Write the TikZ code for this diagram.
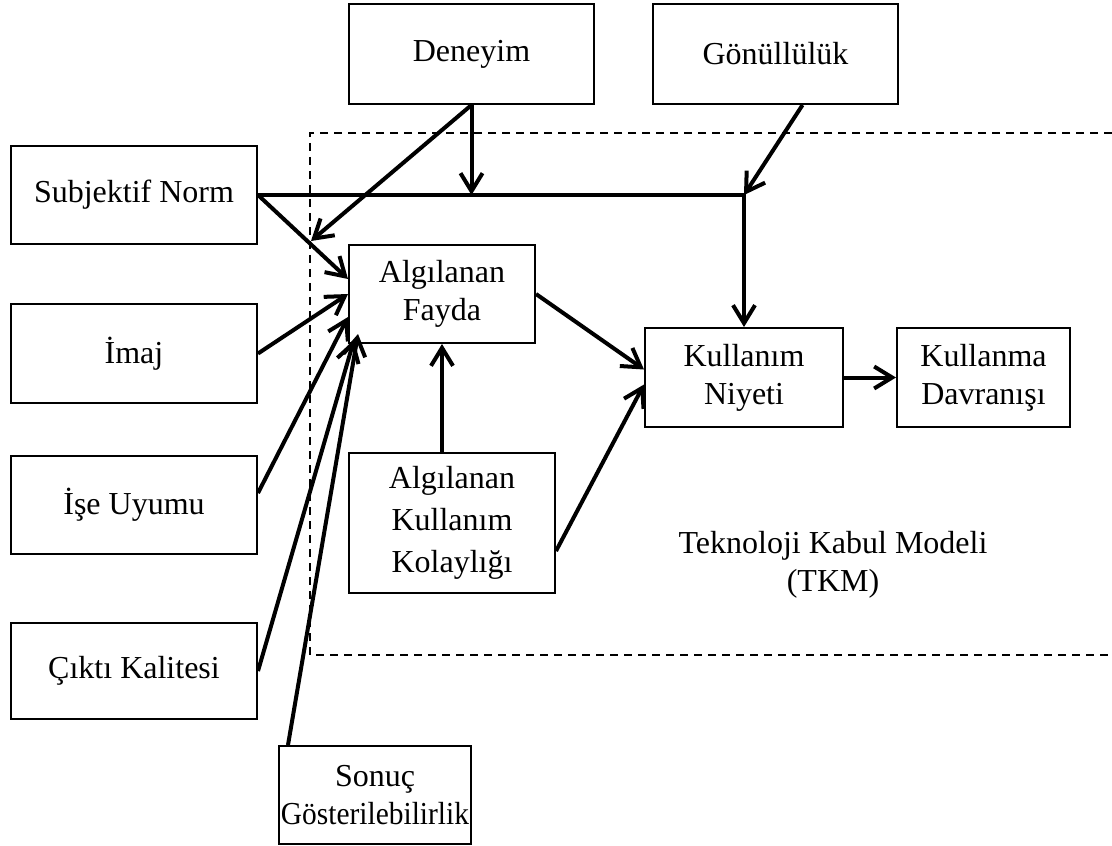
\documentclass[tikz,border=0pt]{standalone}
\usepackage{fontspec}
\setmainfont{Liberation Serif}
\usetikzlibrary{arrows.meta, calc}

\begin{document}
\begin{tikzpicture}[x=0.5pt, y=-0.5pt, font=\fontsize{16}{19}\selectfont,
		kutu/.style={draw, line width=1pt, rectangle, anchor=north west, align=center, inner sep=0pt},
		ok/.style={-{Straight Barb[length=9pt, width=11pt]}, line width=2pt}]
		\useasboundingbox (0,0) rectangle (1112,845);
		\draw[line width=0.9pt, dash pattern=on 4pt off 3pt] (1112,133) -- (310,133) -- (310,655) -- (1112,655);
		\node[kutu, minimum width=122.5pt, minimum height=50pt] (deneyim) at (348,3) {Deneyim};
		\node[kutu, minimum width=122.5pt, minimum height=50pt] (gonullu) at (652,3) {Gönüllülük};
		\node[kutu, minimum width=123pt, minimum height=49pt] (subnorm) at (10,145) {Subjektif Norm};
		\node[kutu, minimum width=123pt, minimum height=49.5pt] (imaj) at (10,303) {İmaj};
		\node[kutu, minimum width=123pt, minimum height=49pt] (iseuyum) at (10,455) {İşe Uyumu};
		\node[kutu, minimum width=123pt, minimum height=48pt] (ciktikal) at (10,622) {Çıktı Kalitesi};
		\node[kutu, minimum width=96pt, minimum height=49pt] (sonuc) at (278,745) {Sonuç\\\scalebox{0.92}[1]{Gösterilebilirlik}};
		\node[kutu, minimum width=93pt, minimum height=49pt] (fayda) at (348,244) {Algılanan\\Fayda};
		\node[kutu, minimum width=103pt, minimum height=70pt, font=\fontsize{16}{21}\selectfont] (kolay) at (348,452) {Algılanan\\Kullanım\\Kolaylığı};
		\node[kutu, minimum width=99pt, minimum height=49.5pt] (niyet) at (644,327) {Kullanım\\Niyeti};
		\node[kutu, minimum width=86.5pt, minimum height=49.5pt] (davranis) at (896,327) {Kullanma\\Davranışı};
		\node[align=center] (tkm) at (833,565) {Teknoloji Kabul Modeli\\(TKM)};
		\coordinate (kavsak) at (niyet.north |- subnorm.east);
		\coordinate (dnyuc) at (311,241);
		\draw[ok] (deneyim.south) -- (deneyim.south |- kavsak);
		\draw[ok] (deneyim.south) -- (dnyuc);
		\draw[ok] ($(gonullu.south)+(27,0)$) -- (kavsak);
		\draw[ok] (subnorm.east) -- (kavsak) -- (niyet.north);
		\draw[ok] (subnorm.east) -- ($(fayda.west)+(0,-15)$);
		\draw[ok] (imaj.east) -- (fayda.west);
		\draw[ok] ($(iseuyum.east)+(0,-12)$) -- ($(fayda.west)+(0,23)$);
		\draw[ok] (ciktikal.east) -- ($(fayda.south west)+(6,-4)$);
		\draw[ok] ($(sonuc.north west)+(10,0)$) -- ($(fayda.south west)+(10,-10)$);
		\draw[ok] (fayda.east) -- ($(niyet.west)+(0,-8)$);
		\draw[ok] ($(kolay.east)+(0,28)$) -- ($(niyet.west)+(0,7)$);
		\draw[ok] (kolay.north -| fayda.south) -- (fayda.south);
		\draw[ok] (niyet.east) -- (davranis.west);
	\end{tikzpicture}
\end{document}
